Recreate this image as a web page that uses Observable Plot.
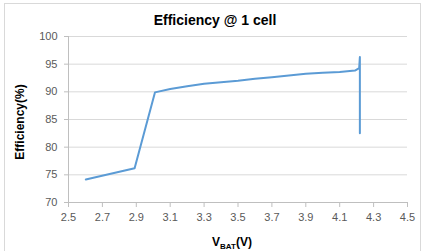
<!DOCTYPE html>
<html>
<head>
<meta charset="utf-8">
<script src="https://cdn.jsdelivr.net/npm/d3@7"></script>
<script src="https://cdn.jsdelivr.net/npm/@observablehq/plot@0.6"></script>
<style>
  html, body { margin: 0; padding: 0; background: #fff; }
  svg { display: block; }
</style>
</head>
<body>
<div id="chart"></div>
<script>
const vbat = [2.602, 2.89, 3.01, 3.1, 3.2, 3.3, 3.4, 3.5, 3.6, 3.7, 3.8, 3.9, 4.0, 4.1, 4.19, 4.215, 4.219, 4.219];
const efficiency = [74.15, 76.2, 89.9, 90.5, 91.0, 91.45, 91.75, 92.0, 92.35, 92.65, 92.95, 93.25, 93.45, 93.6, 93.85, 94.3, 96.3, 82.5];
const xTicks = [2.5, 2.7, 2.9, 3.1, 3.3, 3.5, 3.7, 3.9, 4.1, 4.3, 4.5];
const yTicks = [70, 75, 80, 85, 90, 95, 100];

const data = vbat.map((v, i) => ({v, e: efficiency[i]}));
const font = "'Liberation Sans', Arial, sans-serif";

const plot = Plot.plot({
  width: 423,
  height: 251,
  marginLeft: 68,
  marginRight: 16,
  marginTop: 36,
  marginBottom: 49,
  style: {fontFamily: font, fontSize: "11px", color: "#595959", background: "transparent"},
  x: {domain: [2.5, 4.5], ticks: xTicks, tickFormat: d3.format(".1f"), label: null},
  y: {domain: [70, 100], ticks: yTicks, label: null},
  marks: [
    Plot.ruleY(yTicks.filter(t => t > 70), {stroke: "#d9d9d9", strokeWidth: 1}),
    Plot.ruleX([2.5], {stroke: "#bfbfbf"}),
    Plot.ruleY([70], {stroke: "#bfbfbf"}),
    Plot.axisX({ticks: xTicks, tickFormat: d3.format(".1f"), tickSize: 5, tickPadding: 6, stroke: "#bfbfbf", fill: "#595959", label: null}),
    Plot.axisY({ticks: yTicks, tickSize: 4, tickPadding: 7, stroke: "#bfbfbf", fill: "#595959", label: null}),
    Plot.line(data, {x: "v", y: "e", stroke: "#5b9bd5", strokeWidth: 2, curve: "linear"})
  ]
});

const svg = d3.select(plot);
svg.insert("rect", ":first-child")
  .attr("x", 4.5).attr("y", 3.5).attr("width", 416).attr("height", 260)
  .attr("fill", "none").attr("stroke", "#d9d9d9");

svg.append("text")
  .attr("x", 215).attr("y", 25)
  .attr("text-anchor", "middle")
  .attr("font-family", font).attr("font-weight", "bold").attr("font-size", 14)
  .attr("fill", "#000")
  .text("Efficiency @ 1 cell");

svg.append("text")
  .attr("transform", "translate(24,122) rotate(-90)")
  .attr("text-anchor", "middle")
  .attr("font-family", font).attr("font-weight", "bold").attr("font-size", 12)
  .attr("fill", "#000")
  .text("Efficiency(%)");

const xl = svg.append("text")
  .attr("x", 232).attr("y", 246)
  .attr("text-anchor", "middle")
  .attr("font-family", font).attr("font-weight", "bold").attr("font-size", 12)
  .attr("fill", "#000");
xl.append("tspan").text("V");
xl.append("tspan").attr("font-size", 8).attr("dy", 3).text("BAT");
xl.append("tspan").attr("dy", -3).text("(V)");

document.getElementById("chart").appendChild(plot);
</script>
</body>
</html>
